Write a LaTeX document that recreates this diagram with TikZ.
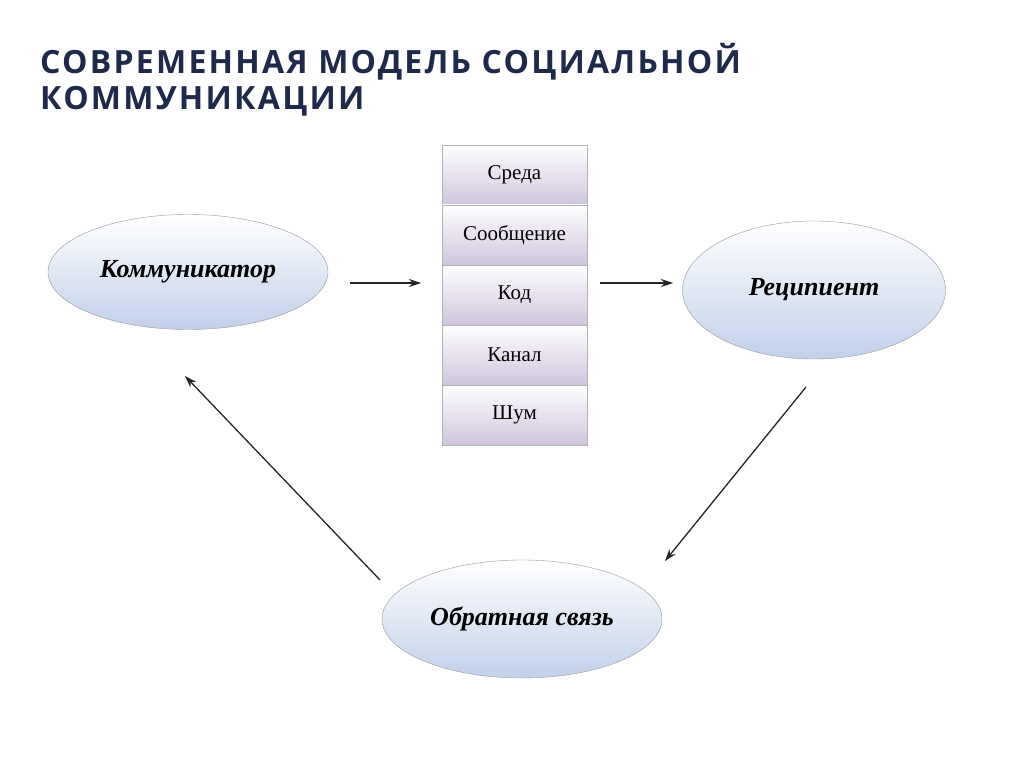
\documentclass[tikz,border=0pt]{standalone}
\usepackage{fontspec}
\usetikzlibrary{shapes.geometric,arrows.meta}
\setmainfont{Liberation Serif}
\newfontfamily\titlefont[LetterSpace=7]{Open Sans}
\definecolor{navy}{HTML}{1F2A4A}
\definecolor{lav}{HTML}{CFC4DE}
\definecolor{ell}{HTML}{C2D0EA}
\begin{document}
\begin{tikzpicture}[x=1pt,y=-1pt,
  ellbox/.style={ellipse,draw=gray!80,top color=white,bottom color=ell,inner sep=0pt,font=\bfseries\itshape\fontsize{26}{30}\selectfont},
  layer/.style={rectangle,draw=gray!60,top color=white,bottom color=lav,minimum width=145pt,minimum height=60pt,inner sep=0pt,font=\fontsize{21}{24}\selectfont},
  arr/.style={-{Stealth[length=12pt,width=8pt]},line width=1.3pt,black!85}]
\useasboundingbox (0,0) rectangle (1024,767);
\fill[white] (0,0) rectangle (1024,767);
\node[anchor=west,inner sep=0pt,text=navy,font=\titlefont\bfseries\fontsize{32}{36}\selectfont] (t1) at (40,62) {СОВРЕМЕННАЯ МОДЕЛЬ СОЦИАЛЬНОЙ};
\node[anchor=west,inner sep=0pt,text=navy,font=\titlefont\bfseries\fontsize{32}{36}\selectfont] (t2) at (40,101) {КОММУНИКАЦИИ};
\node[layer] (l1) at (514.5,175) {Среда};
\node[layer] (l2) at (514.5,235) {Сообщение};
\node[layer] (l3) at (514.5,295) {Код};
\node[layer] (l4) at (514.5,355) {Канал};
\node[layer] (l5) at (514.5,415) {Шум};
\node[ellbox,minimum width=280pt,minimum height=115pt] (k) at (188,272) {Коммуникатор};
\node[ellbox,minimum width=263pt,minimum height=138pt] (r) at (814,290) {Реципиент};
\node[ellbox,minimum width=280pt,minimum height=118pt] (o) at (522,619) {Обратная связь};
\coordinate (a1s) at (350,283); \coordinate (a1e) at (421,283);
\coordinate (a2s) at (600,283); \coordinate (a2e) at (673,283);
\coordinate (a3s) at (806,387); \coordinate (a3e) at (665,561);
\coordinate (a4s) at (380,580); \coordinate (a4e) at (185,376);
\draw[arr] (a1s) -- (a1e);
\draw[arr] (a2s) -- (a2e);
\draw[arr] (a3s) -- (a3e);
\draw[arr] (a4s) -- (a4e);
\end{tikzpicture}
\end{document}
